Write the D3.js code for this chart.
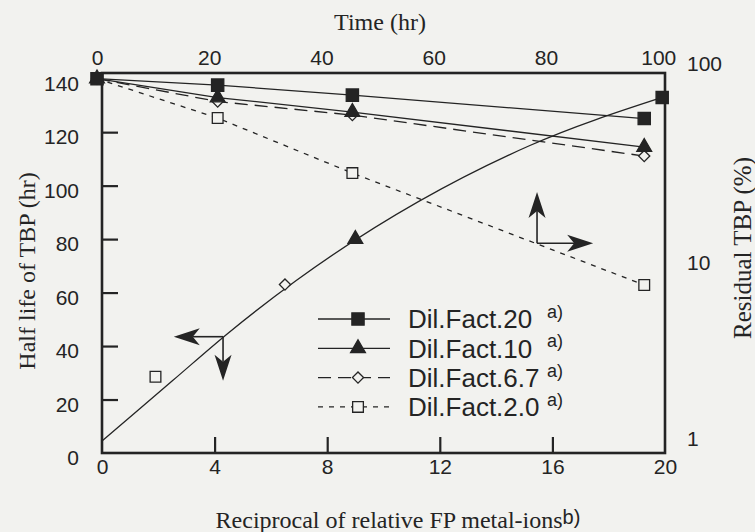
<!DOCTYPE html>
<html>
<head>
<meta charset="utf-8">
<script src="https://cdn.jsdelivr.net/npm/d3@7"></script>
<style>
  body { margin: 0; background: #f2f2ef; }
  svg { display: block; }
  .sans { font-family: "Liberation Sans", Arial, Helvetica, sans-serif; }
  .serif { font-family: "Liberation Serif", "Times New Roman", serif; }
</style>
</head>
<body>
<div id="chart"></div>
<script>
// tick labels
var recipTicks = [0, 4, 8, 12, 16, 20];
var timeTicks = [0, 20, 40, 60, 80, 100];
var halfTicks = [0, 20, 40, 60, 80, 100, 120, 140];
var residTicks = [1, 10, 100];

// residual TBP (%) against time (hr)
var times = [0, 21.5, 45.5, 97.5];
var resid20 = [100, 92.4, 81.7, 61.2];
var resid10 = [100, 79.3, 66.3, 43.1];
var resid67 = [100, 75.5, 63.9, 38.6];
var resid2 = [100, 61.6, 31.3, 7.9];

// half life (hr) against reciprocal of relative FP metal-ions
// one point per dilution: 20, 10, 6.7, 2.0
var recip = [19.9, 9.0, 6.5, 1.9];
var halfLife = [133, 80, 63, 28.5];

// the smooth curve drawn through them
var fitRecip = [0, 2.5, 4.5, 6.9, 15.2, 19.9];
var fitHalf = [4.5, 27, 45, 64.5, 115, 133];

var names = ["Dil.Fact.20", "Dil.Fact.10", "Dil.Fact.6.7", "Dil.Fact.2.0"];

function drawChart() {
  var width = 755, height = 532;
  var x0 = 102, x1 = 665, y0 = 73, y1 = 453;
  var ink = "#242424", paper = "#f2f2ef";

  var svg = d3.select("#chart").append("svg")
    .attr("width", width)
    .attr("height", height);

  var xR = d3.scaleLinear().domain([0, 20]).range([x0, x1]);
  var xT = d3.scaleLinear().domain([0, 101.2]).range([97, x1]);
  var yL = d3.scaleLinear().domain([0, 142.5]).range([y1, 72]);
  var yR = d3.scaleLog().domain([1, 100]).range([y1, yL(140)]);

  // series styles
  var series = [
    {name: names[0], vals: resid20, sym: d3.symbolSquare, size: 150, fill: ink, dash: null, rot: 0},
    {name: names[1], vals: resid10, sym: d3.symbolTriangle, size: 95, fill: ink, dash: null, rot: 0},
    {name: names[2], vals: resid67, sym: d3.symbolSquare, size: 62, fill: paper, dash: "13,7", rot: 45},
    {name: names[3], vals: resid2, sym: d3.symbolSquare, size: 115, fill: paper, dash: "5,6", rot: 0}
  ];
  series.forEach(function(s, i) {
    s.rx = recip[i];
    s.hy = halfLife[i];
  });

  function marker(g, s, x, y) {
    g.append("path")
      .attr("d", d3.symbol().type(s.sym).size(s.size))
      .attr("transform", "translate(" + x + "," + y + ") rotate(" + s.rot + ")")
      .attr("fill", s.fill)
      .attr("stroke", ink)
      .attr("stroke-width", 1.3);
  }

  // frame
  svg.append("rect")
    .attr("x", x0).attr("y", y0)
    .attr("width", x1 - x0).attr("height", y1 - y0)
    .attr("fill", "none")
    .attr("stroke", ink)
    .attr("stroke-width", 2.6);

  // left axis
  var gl = svg.append("g")
    .attr("class", "sans")
    .attr("transform", "translate(" + x0 + ",0)")
    .call(d3.axisLeft(yL).tickValues(halfTicks).tickSize(-16).tickPadding(23));
  gl.select(".domain").remove();
  gl.selectAll(".tick line")
    .attr("stroke", ink).attr("stroke-width", 2.2)
    .filter(function(d) { return d == 0 || d == 140; }).remove();
  gl.selectAll(".tick text").attr("dy", "0.56em");

  // bottom axis
  var gb = svg.append("g")
    .attr("class", "sans")
    .attr("transform", "translate(0," + y1 + ")")
    .call(d3.axisBottom(xR).tickValues(recipTicks).tickSize(-16).tickPadding(6));
  gb.select(".domain").remove();
  gb.selectAll(".tick line")
    .attr("stroke", ink).attr("stroke-width", 2.2)
    .filter(function(d) { return d == 0 || d == 20; }).remove();

  // top axis (time)
  var gt = svg.append("g")
    .attr("class", "sans")
    .attr("transform", "translate(0," + y0 + ")")
    .call(d3.axisTop(xT).tickValues(timeTicks).tickSize(0).tickPadding(8));
  gt.select(".domain").remove();

  // right axis (log)
  var gr = svg.append("g")
    .attr("class", "sans")
    .attr("transform", "translate(" + x1 + ",0)")
    .call(d3.axisRight(yR).tickValues(residTicks).tickSize(0).tickPadding(22)
      .tickFormat(d3.format("d")));
  gr.select(".domain").remove();
  gr.selectAll(".tick text")
    .attr("dy", function(d) { return d == 10 ? "4px" : "-8px"; });

  svg.selectAll(".tick text")
    .attr("fill", ink)
    .style("font-size", "21px");

  // decay lines, time vs residual
  var line = d3.line()
    .x(function(d, i) { return xT(times[i]); })
    .y(function(d) { return yR(d); });

  series.slice().reverse().forEach(function(s) {
    svg.append("path")
      .datum(s.vals)
      .attr("d", line)
      .attr("fill", "none")
      .attr("stroke", ink)
      .attr("stroke-width", 1.3)
      .attr("stroke-dasharray", s.dash);
  });
  series.slice().reverse().forEach(function(s) {
    s.vals.forEach(function(v, i) {
      marker(svg, s, xT(times[i]), yR(v));
    });
  });

  // half life curve
  var fit = d3.line()
    .curve(d3.curveMonotoneX)
    .x(function(d, i) { return xR(fitRecip[i]); })
    .y(function(d) { return yL(d); });

  svg.append("path")
    .datum(fitHalf)
    .attr("d", fit)
    .attr("fill", "none")
    .attr("stroke", ink)
    .attr("stroke-width", 1.3);

  series.forEach(function(s) {
    marker(svg, s, xR(s.rx), yL(s.hy));
  });

  // arrows showing which axes each group uses
  function arrow(ax, ay, bx2, by2) {
    var a = Math.atan2(by2 - ay, bx2 - ax);
    var len = 26, hw = 8.5, notch = 7;
    var bx = bx2 - len * Math.cos(a), by = by2 - len * Math.sin(a);
    svg.append("line")
      .attr("x1", ax).attr("y1", ay)
      .attr("x2", bx + notch * Math.cos(a)).attr("y2", by + notch * Math.sin(a))
      .attr("stroke", ink).attr("stroke-width", 1.6);
    var px = -Math.sin(a), py = Math.cos(a);
    var pts = [
      [bx2, by2],
      [bx + hw * px, by + hw * py],
      [bx + notch * Math.cos(a), by + notch * Math.sin(a)],
      [bx - hw * px, by - hw * py]
    ];
    svg.append("path")
      .attr("d", "M" + pts.join("L") + "Z")
      .attr("fill", ink);
  }

  arrow(xR(4.3), yL(43.5), xR(2.55), yL(43.5));
  arrow(xR(4.3), yL(43.5), xR(4.3), yL(27));
  arrow(xT(78.4), yR(13.2), xT(78.4), yR(24.8));
  arrow(xT(78.4), yR(13.2), xT(88.4), yR(13.2));

  // legend
  var lg = svg.append("g").attr("class", "sans");
  series.forEach(function(s, i) {
    var y = 319 + i * 29.3;
    lg.append("line")
      .attr("x1", 318).attr("x2", 390)
      .attr("y1", y).attr("y2", y)
      .attr("stroke", ink)
      .attr("stroke-width", 1.3)
      .attr("stroke-dasharray", s.dash);
    marker(lg, s, 358, y);
    lg.append("text")
      .attr("x", 408).attr("y", y + 9.4)
      .attr("fill", ink)
      .style("font-size", "26px")
      .text(s.name);
    lg.append("text")
      .attr("x", 547).attr("y", y - 1)
      .attr("fill", ink)
      .style("font-size", "18px")
      .text("a)");
  });

  // axis titles
  svg.append("text")
    .attr("class", "serif")
    .attr("x", 380).attr("y", 30)
    .attr("text-anchor", "middle")
    .attr("fill", ink)
    .style("font-size", "24px")
    .text("Time (hr)");

  svg.append("text")
    .attr("class", "serif")
    .attr("transform", "translate(35,271) rotate(-90)")
    .attr("text-anchor", "middle")
    .attr("fill", ink)
    .style("font-size", "24px")
    .text("Half life of TBP (hr)");

  svg.append("text")
    .attr("class", "serif")
    .attr("transform", "translate(751,248) rotate(-90)")
    .attr("text-anchor", "middle")
    .attr("fill", ink)
    .style("font-size", "25px")
    .text("Residual TBP (%)");

  var bt = svg.append("text")
    .attr("class", "serif")
    .attr("x", 398).attr("y", 528)
    .attr("text-anchor", "middle")
    .attr("fill", ink)
    .style("font-size", "24px");
  bt.append("tspan").text("Reciprocal of relative FP metal-ions");
  bt.append("tspan")
    .attr("class", "sans")
    .attr("dy", -4)
    .style("font-size", "20px")
    .text("b)");
}

drawChart();
</script>
</body>
</html>
